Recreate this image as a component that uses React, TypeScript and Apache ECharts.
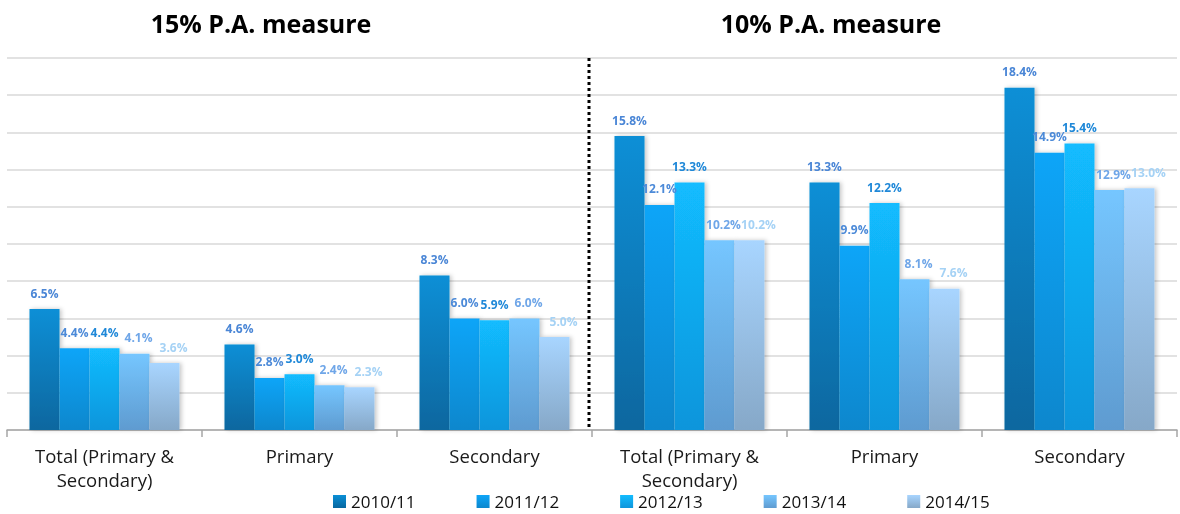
import React, { useEffect, useRef } from "react";
import * as echarts from "echarts";

const categories = [
  "Total (Primary &\nSecondary)",
  "Primary",
  "Secondary",
  "Total (Primary &\nSecondary)",
  "Primary",
  "Secondary",
];
const seriesNames = ["2010/11", "2011/12", "2012/13", "2013/14", "2014/15"];
const v2010 = [6.5, 4.6, 8.3, 15.8, 13.3, 18.4];
const v2011 = [4.4, 2.8, 6.0, 12.1, 9.9, 14.9];
const v2012 = [4.4, 3.0, 5.9, 13.3, 12.2, 15.4];
const v2013 = [4.1, 2.4, 6.0, 10.2, 8.1, 12.9];
const v2014 = [3.6, 2.3, 5.0, 10.2, 7.6, 13.0];
const titles = ["15% P.A. measure", "10% P.A. measure"];

const values = [v2010, v2011, v2012, v2013, v2014];
const topColors = ["#0A8FD6", "#0EA5F8", "#12BCFF", "#75C6FF", "#A8D5FF"];
const bottomColors = ["#08679F", "#0B87CD", "#0E95DB", "#5F9BD0", "#86A8C8"];
const labelColors = ["#4A86D6", "#4C8AD8", "#1F88D8", "#6FA6E8", "#A5D2F5"];
const labelShiftX = [0, 0, 0, 4, 9];

const FONT = "'Open Sans', Lato, sans-serif";

export default function App() {
  const ref = useRef<HTMLDivElement>(null);
  useEffect(() => {
    if (!ref.current) return;
    const chart = echarts.init(ref.current, null, { renderer: "svg" });
    const series = seriesNames.map((name, i) => ({
      name,
      type: "bar",
      data: values[i],
      barWidth: 30,
      barGap: "0%",
      itemStyle: {
        color: new echarts.graphic.LinearGradient(0, 0, 0, 1, [
          { offset: 0, color: topColors[i] },
          { offset: 1, color: bottomColors[i] },
        ]),
        shadowColor: "rgba(0,0,0,0.22)",
        shadowBlur: 4,
        shadowOffsetX: 2,
      },
      label: {
        show: true,
        position: "top",
        distance: 10,
        offset: [labelShiftX[i], 0],
        formatter: (p: any) => p.value.toFixed(1) + "%",
        color: labelColors[i],
        fontWeight: "bold",
        fontSize: 12,
        fontFamily: FONT,
      },
    }));
    chart.setOption({
      animation: false,
      title: [
        {
          text: titles[0],
          left: 256,
          top: 5,
          textAlign: "center",
          textStyle: { fontSize: 25, fontWeight: "bold", color: "#000", fontFamily: FONT },
        },
        {
          text: titles[1],
          left: 826,
          top: 5,
          textAlign: "center",
          textStyle: { fontSize: 25, fontWeight: "bold", color: "#000", fontFamily: FONT },
        },
      ],
      legend: {
        data: seriesNames,
        left: 328,
        top: 488,
        itemWidth: 13,
        itemHeight: 13,
        itemGap: 61,
        icon: "rect",
        textStyle: { fontSize: 17, color: "#111", fontFamily: FONT },
      },
      grid: { left: 7, right: 3, top: 58, bottom: 84, containLabel: false },
      xAxis: {
        type: "category",
        data: categories,
        axisLine: { lineStyle: { color: "#a6a6a6", width: 1.5 } },
        axisTick: { show: true, length: 7, lineStyle: { color: "#a6a6a6", width: 1.5 } },
        axisLabel: {
          fontSize: 18.5,
          color: "#1a1a1a",
          fontFamily: FONT,
          margin: 13,
          lineHeight: 24,
          interval: 0,
        },
      },
      yAxis: {
        type: "value",
        min: 0,
        max: 20,
        interval: 2,
        axisLabel: { show: false },
        axisLine: { show: false },
        axisTick: { show: false },
        splitLine: { lineStyle: { color: "#d9d9d9", width: 1.5 } },
      },
      graphic: [
        {
          type: "line",
          shape: { x1: 589, y1: 58, x2: 589, y2: 430 },
          style: { stroke: "#000", lineWidth: 3, lineDash: [3, 3] },
          z: 100,
        },
      ],
      series,
    });
    return () => chart.dispose();
  }, []);
  return (
    <div
      ref={ref}
      style={{ position: "fixed", left: 0, top: 0, width: 1180, height: 514 }}
    />
  );
}
